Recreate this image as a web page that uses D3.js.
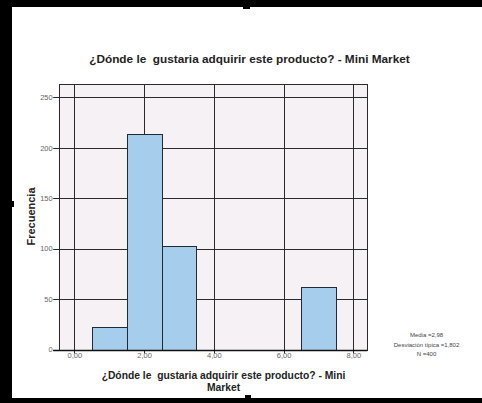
<!DOCTYPE html>
<html>
<head>
<meta charset="utf-8">
<script src="https://cdn.jsdelivr.net/npm/d3@7"></script>
<style>
  html, body { margin: 0; padding: 0; background: #ffffff; }
  svg { display: block; }
  svg text { white-space: pre; }
</style>
</head>
<body>
<svg id="chart" width="482" height="403"></svg>
<script>
// ---- data ----
const binStarts = [0.5, 1.5, 2.5, 6.5];
const binEnds   = [1.5, 2.5, 3.5, 7.5];
const counts    = [22, 213, 103, 62];
const xTicks = [0, 2, 4, 6, 8];
const xTickLabels = ["0,00", "2,00", "4,00", "6,00", "8,00"];
const yTicks = [0, 50, 100, 150, 200, 250];
const titleText = "¿Dónde le  gustaria adquirir este producto? - Mini Market";
const xLabelLines = ["¿Dónde le  gustaria adquirir este producto? - Mini", "Market"];
const yLabelText = "Frecuencia";
const statsLines = ["Media =2,98", "Desviación típica =1,802", "N =400"];

(function () {
const svg = d3.select("#chart");
const W = 482, H = 403;

// outer frame (black)
svg.append("rect").attr("x", 0).attr("y", 0).attr("width", W).attr("height", 7).attr("fill", "#000");
svg.append("rect").attr("x", 0).attr("y", 0).attr("width", 12).attr("height", H).attr("fill", "#000");
svg.append("rect").attr("x", 0).attr("y", 398).attr("width", W).attr("height", 5).attr("fill", "#000");
svg.append("rect").attr("x", 243).attr("y", 6).attr("width", 7).attr("height", 3).attr("fill", "#000");
svg.append("rect").attr("x", 245).attr("y", 395).attr("width", 6).attr("height", 4).attr("fill", "#000");
svg.append("rect").attr("x", 11).attr("y", 201).attr("width", 3).attr("height", 6).attr("fill", "#000");

const pLeft = 58.7, pRight = 367.3, pTop = 84, pBottom = 349.5;
const x = d3.scaleLinear().domain([-0.45, 8.4]).range([pLeft, pRight]);
const y = d3.scaleLinear().domain([0, 263]).range([pBottom, pTop]);

// plot background
svg.append("rect").attr("x", pLeft).attr("y", pTop).attr("width", pRight - pLeft).attr("height", pBottom - pTop)
  .attr("fill", "#f5f1f5");

const lineCol = "#2a2a2a";

// gridlines
const g = svg.append("g");
g.selectAll("line.hg").data(yTicks).enter().append("line")
  .attr("x1", pLeft - 5.5).attr("x2", pRight)
  .attr("y1", d => Math.round(y(d)) + 0.5).attr("y2", d => Math.round(y(d)) + 0.5)
  .attr("stroke", lineCol).attr("stroke-width", 1);
g.selectAll("line.vg").data(xTicks).enter().append("line")
  .attr("x1", d => Math.round(x(d)) + 0.5).attr("x2", d => Math.round(x(d)) + 0.5)
  .attr("y1", pTop).attr("y2", pBottom + 4)
  .attr("stroke", lineCol).attr("stroke-width", 1);

// bars
svg.append("g").selectAll("rect").data(counts).enter().append("rect")
  .attr("x", (d, i) => Math.round(x(binStarts[i])) + 0.5)
  .attr("width", (d, i) => Math.round(x(binEnds[i])) - Math.round(x(binStarts[i])))
  .attr("y", d => Math.round(y(d)) + 0.5)
  .attr("height", d => Math.round(y(0)) - Math.round(y(d)))
  .attr("fill", "#a6cdec").attr("stroke", "#1f2a36").attr("stroke-width", 1);

// plot border
svg.append("rect").attr("x", Math.round(pLeft) + 0.5).attr("y", pTop + 0.5)
  .attr("width", Math.round(pRight) - Math.round(pLeft)).attr("height", Math.round(pBottom) - pTop)
  .attr("fill", "none").attr("stroke", lineCol).attr("stroke-width", 1);
// axis baseline (thicker)
svg.append("line").attr("x1", pLeft - 5.5).attr("x2", pRight)
  .attr("y1", Math.round(y(0)) + 0.5).attr("y2", Math.round(y(0)) + 0.5)
  .attr("stroke", "#111").attr("stroke-width", 1.6);

// axes labels via d3 axes (tick text only)
const yAxis = d3.axisLeft(y).tickValues(yTicks).tickSize(0).tickPadding(0).tickFormat(d3.format("d"));
const ya = svg.append("g").attr("transform", `translate(${pLeft - 6},0)`).call(yAxis);
ya.select(".domain").remove();
ya.selectAll("text").attr("font-family", "Liberation Sans, Arial, sans-serif").attr("font-size", 7.5).attr("fill", "#666");

const xAxis = d3.axisBottom(x).tickValues(xTicks).tickSize(0).tickPadding(0).tickFormat((d, i) => xTickLabels[i]);
const xa = svg.append("g").attr("transform", `translate(0,${pBottom + 3})`).call(xAxis);
xa.select(".domain").remove();
xa.selectAll("text").attr("font-family", "Liberation Sans, Arial, sans-serif").attr("font-size", 7.5).attr("fill", "#666");

// title
svg.append("text").attr("x", 249.5).attr("y", 63).attr("text-anchor", "middle")
  .attr("font-family", "Liberation Sans, Arial, sans-serif").attr("font-weight", "bold").attr("font-size", 11.8)
  .attr("fill", "#222").text(titleText);

// x label
svg.append("g").selectAll("text").data(xLabelLines).enter().append("text")
  .attr("x", 223.5).attr("y", (d, i) => 379 + i * 11.5).attr("text-anchor", "middle")
  .attr("font-family", "Liberation Sans, Arial, sans-serif").attr("font-weight", "bold").attr("font-size", 10.3)
  .attr("fill", "#222").text(d => d);

// y label
svg.append("text").attr("transform", "translate(35,216.5) rotate(-90)").attr("text-anchor", "middle")
  .attr("font-family", "Liberation Sans, Arial, sans-serif").attr("font-weight", "bold").attr("font-size", 11)
  .attr("fill", "#222").text(yLabelText);

// stats
svg.append("g").selectAll("text").data(statsLines).enter().append("text")
  .attr("x", 426.5).attr("y", (d, i) => 337 + i * 9.5).attr("text-anchor", "middle")
  .attr("font-family", "Liberation Sans, Arial, sans-serif").attr("font-size", 6)
  .attr("fill", "#444").text(d => d);
})();
</script>
</body>
</html>
